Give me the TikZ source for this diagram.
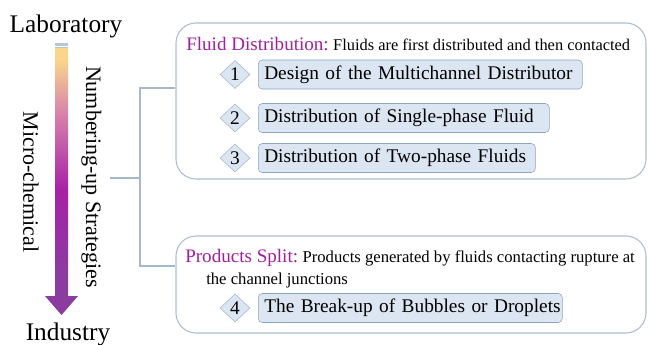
\documentclass[tikz,border=0pt]{standalone}
\usepackage{fontspec}
\setmainfont{Liberation Serif}
\usetikzlibrary{shapes.geometric}
\definecolor{mag}{RGB}{160,32,160}
\definecolor{frameline}{RGB}{175,190,205}
\definecolor{boxfill}{RGB}{220,230,242}
\definecolor{boxline}{RGB}{140,165,192}
\definecolor{connline}{RGB}{165,185,205}
\definecolor{arrtop}{RGB}{250,214,140}
\definecolor{arrpink}{RGB}{215,130,170}
\definecolor{arrmid}{RGB}{168,32,168}
\definecolor{arrbot}{RGB}{140,60,160}
\definecolor{capblue}{RGB}{180,200,210}
\pgfdeclareverticalshading{arrowshade}{100bp}{color(0bp)=(arrbot); color(25bp)=(arrbot); color(33bp)=(arrbot); color(48bp)=(arrmid); color(62bp)=(arrpink); color(72bp)=(arrtop); color(75bp)=(arrtop); color(100bp)=(arrtop)}
\begin{document}
\begin{tikzpicture}[x=0.75pt,y=-0.75pt,
  bigtext/.style={font=\fontsize{19}{22}\selectfont, inner sep=0pt},
  sidetext/.style={font=\fontsize{16.5}{20}\selectfont, inner sep=0pt, rotate=-90},
  frame/.style={draw=frameline, line width=0.8pt, rounded corners=15pt, fill=white},
  ibox/.style={draw=boxline, fill=boxfill, rounded corners=3pt, anchor=west,
    minimum height=21.75pt, inner xsep=4.5pt, inner ysep=0pt, align=left,
    font=\fontsize{14.5}{16}\selectfont},
  idia/.style={diamond, draw=boxline!80, fill=boxfill, inner sep=0pt,
    minimum width=22.5pt, minimum height=21pt, font=\fontsize{14.5}{16}\selectfont},
  conn/.style={draw=connline, line width=0.8pt},
  head/.style={anchor=base west, inner sep=0pt}]
\useasboundingbox (0,0) rectangle (649,344);
% left side
\node[bigtext, anchor=base] (lab) at (66,32) {Laboratory};
\node[bigtext, anchor=base] (ind) at (68,340) {Industry};
\shade[shading=arrowshade] (55,43) -- (68,43) -- (68,296) -- (78,296) -- (61.5,315) -- (45,296) -- (55,296) -- cycle;
\fill[capblue] (55,43) rectangle (68,48);
\draw[white, line width=0.4pt] (55,46) -- (68,46);
\node[sidetext] (micro) at (31,182) {Micro-chemical};
\node[sidetext] (numb) at (91.5,177) {Numbering-up Strategies};
% frames
\node[frame, minimum width=352.5pt, minimum height=117pt] (fd) at (411,101) {};
\node[frame, minimum width=352.5pt, minimum height=72.75pt] (ps) at (411,284.5) {};
% connectors
\coordinate (start) at (110,178);
\coordinate (hub) at (140,178);
\coordinate (fdin) at (fd.west |- 0,88);
\coordinate (psin) at (ps.west |- 0,266);
\draw[conn] (start) -- (hub);
\draw[conn] (hub) |- (fdin);
\draw[conn] (hub) |- (psin);
% headers
\node[head] (fdh) at (186,50)
  {{\color{mag}\fontsize{14.3}{16}\selectfont Fluid Distribution:} \fontsize{12.3}{14}\selectfont Fluids are first distributed and then contacted};
\node[head] (psh) at (185,262)
  {{\color{mag}\fontsize{14.3}{16}\selectfont Products Split:} \fontsize{12.5}{14}\selectfont Products generated by fluids contacting rupture at};
\node[head, font=\fontsize{12.5}{14}\selectfont] (psh2) at (206,284) {the channel junctions};
% items
\node[idia] (d1) at (235,74.5) {1};
\node[ibox, text width=234pt] (b1) at (258,74.5) {\mbox{Design of the Multichannel Distributor}};
\node[idia] (d2) at (235,118) {2};
\node[ibox, text width=209.25pt] (b2) at (258,118) {\mbox{Distribution of Single-phase Fluid}};
\node[idia] (d3) at (235,158) {3};
\node[ibox, text width=198.75pt] (b3) at (258,158) {\mbox{Distribution of Two-phase Fluids}};
\node[idia] (d4) at (235,308) {4};
\node[ibox, text width=219pt] (b4) at (258,308) {\mbox{The Break-up of Bubbles or Droplets}};
\end{tikzpicture}
\end{document}
